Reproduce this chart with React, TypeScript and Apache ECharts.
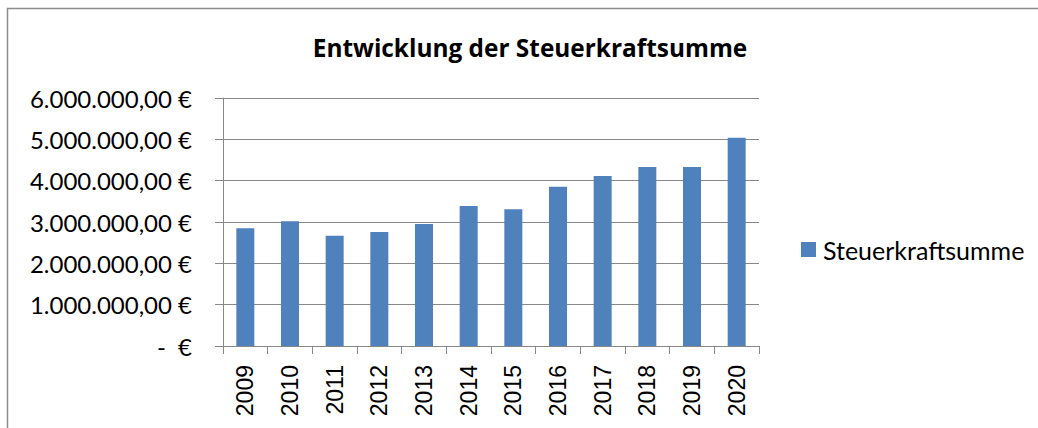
import React, { useEffect, useRef } from "react";
import * as echarts from "echarts";

const title = "Entwicklung der Steuerkraftsumme";
const seriesName = "Steuerkraftsumme";
const years = ["2009", "2010", "2011", "2012", "2013", "2014", "2015", "2016", "2017", "2018", "2019", "2020"];
const values = [2850000, 3020000, 2670000, 2760000, 2950000, 3390000, 3310000, 3850000, 4110000, 4330000, 4330000, 5040000];
const yMin = 0;
const yMax = 6000000;
const yInterval = 1000000;

function formatEuro(v: number): string {
  if (v === 0) return "-  €";
  const s = Math.round(v).toString().replace(/\B(?=(\d{3})+(?!\d))/g, ".");
  return s + ",00 €";
}

export default function App() {
  const ref = useRef<HTMLDivElement>(null);
  useEffect(() => {
    if (!ref.current) return;
    const chart = echarts.init(ref.current, null, { renderer: "svg" });
    const grey = "#888888";
    chart.setOption({
      animation: false,
      backgroundColor: "#ffffff",
      title: {
        text: title,
        left: 530,
        textAlign: "center",
        top: 35,
        padding: 0,
        textStyle: { fontFamily: "Open Sans", fontWeight: "bold", fontSize: 24.4, color: "#000" },
      },
      legend: {
        left: 801,
        top: 237,
        padding: 0,
        itemWidth: 15,
        itemHeight: 15,
        itemGap: 10,
        icon: "rect",
        textStyle: { fontFamily: "Lato", fontSize: 25, color: "#000", padding: [0, 0, 0, 2] },
        data: [seriesName],
      },
      graphic: [
        {
          type: "rect",
          shape: { x: 7.5, y: 8.5, width: 1100, height: 500 },
          style: { fill: "none", stroke: "#8c8c8c", lineWidth: 1.5 },
          silent: true,
          z: -1,
        },
      ],
      grid: { left: 223, top: 98, right: 279, bottom: 82, containLabel: false },
      xAxis: {
        type: "category",
        data: years,
        axisLine: { show: true, lineStyle: { color: grey, width: 1 } },
        axisTick: { show: true, length: 8, lineStyle: { color: grey } },
        axisLabel: {
          interval: 0,
          rotate: 90,
          margin: 19,
          fontFamily: "Liberation Sans",
          fontSize: 23,
          color: "#000",
        },
      },
      yAxis: {
        type: "value",
        min: yMin,
        max: yMax,
        interval: yInterval,
        axisLine: { show: true, lineStyle: { color: grey, width: 1 } },
        axisTick: { show: true, length: 8, lineStyle: { color: grey } },
        splitLine: { show: true, lineStyle: { color: grey, width: 1 } },
        axisLabel: {
          margin: 31,
          fontFamily: "Lato",
          fontSize: 24,
          color: "#000",
          formatter: (v: number) => formatEuro(v),
        },
      },
      series: [
        {
          name: seriesName,
          type: "bar",
          data: values,
          barWidth: 18,
          itemStyle: { color: "#4F81BD" },
        },
      ],
    });
    return () => chart.dispose();
  }, []);
  return <div ref={ref} style={{ position: "fixed", left: 0, top: 0, width: 1038, height: 428 }} />;
}
